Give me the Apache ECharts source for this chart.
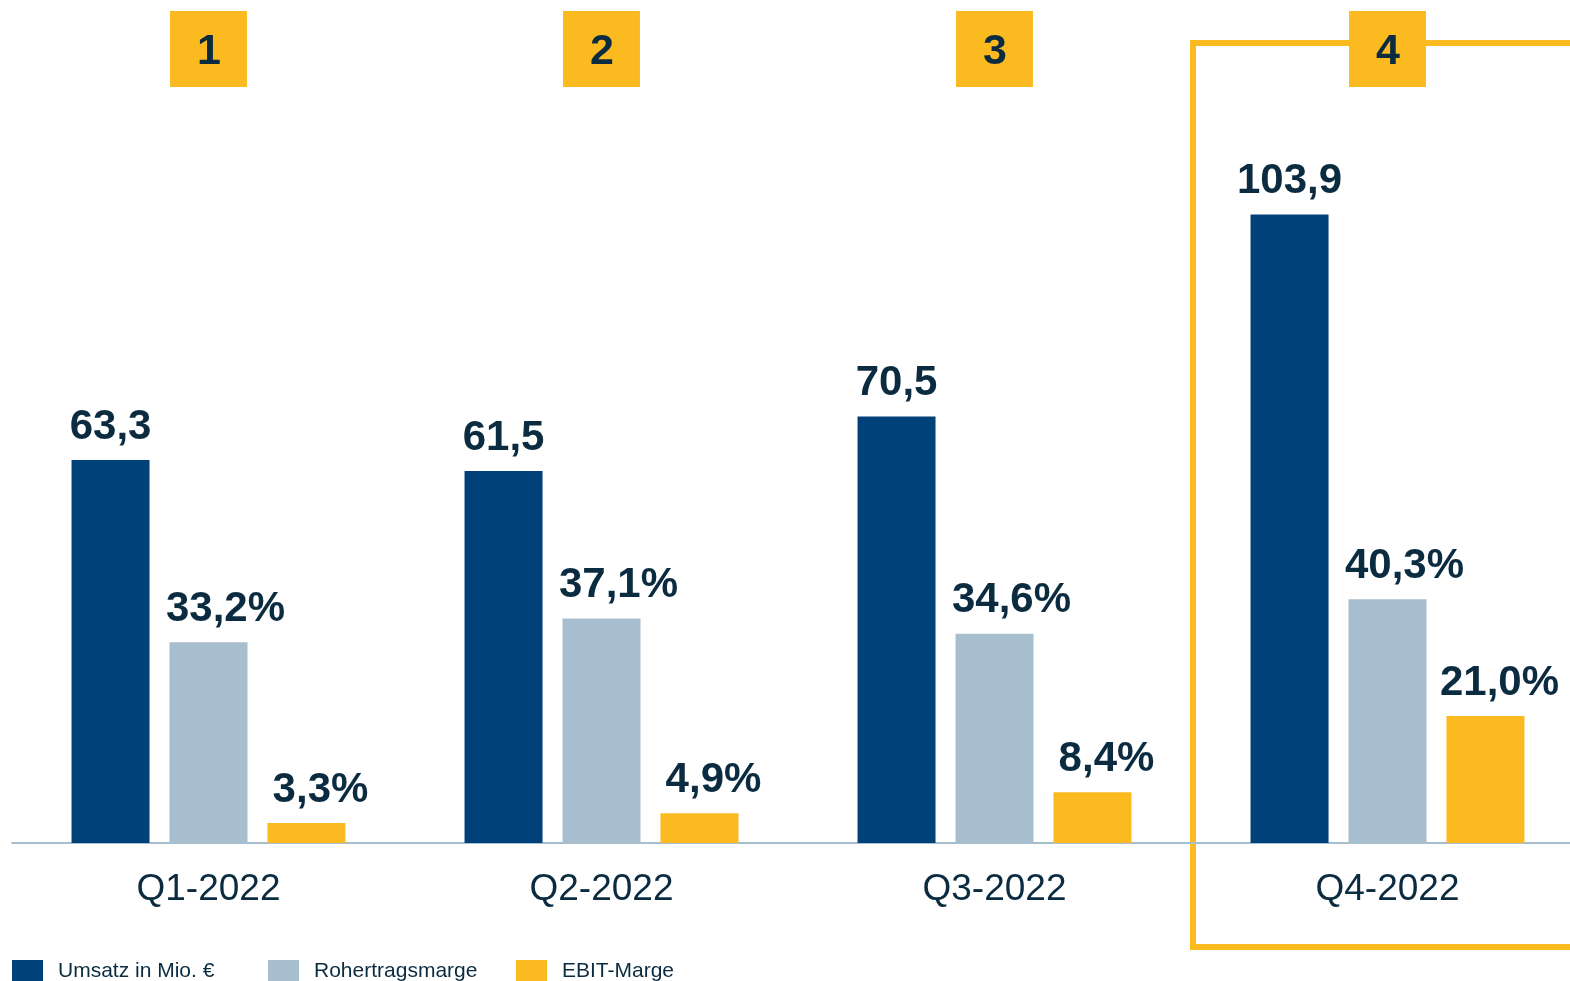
<!DOCTYPE html>
<html>
<head>
<meta charset="utf-8">
<title>Quartale 2022</title>
<script src="https://cdn.jsdelivr.net/npm/echarts@6/dist/echarts.min.js"></script>
<style>
  html, body { margin: 0; padding: 0; background: #fff; }
  #chart { width: 1570px; height: 981px; }
</style>
</head>
<body>
<div id="chart"></div>
<script>
  // Daten
  var quarters = ['Q1-2022', 'Q2-2022', 'Q3-2022', 'Q4-2022']
  var quarterNumbers = ['1', '2', '3', '4']
  var seriesNames = ['Umsatz in Mio. €', 'Rohertragsmarge', 'EBIT-Marge']
  var umsatz = [63.3, 61.5, 70.5, 103.9]
  var rohertragsmarge = [33.2, 37.1, 34.6, 40.3]
  var ebitMarge = [3.3, 4.9, 8.4, 21.0]
  var highlightQuarter = 'Q4-2022'

  var textColor = '#0b2b40'
  var navy = '#01417a'
  var grey = '#a7bece'
  var yellow = '#fbba1f'
  var font = '"Liberation Sans", Arial, sans-serif'

  function fmt (v) {
    return v.toFixed(1).replace('.', ',')
  }

  var valueLabel = {
    show: true,
    position: 'top',
    distance: 12,
    fontFamily: font,
    fontSize: 42,
    fontWeight: 'bold',
    color: textColor
  }
  function percentLabel (dx) {
    return Object.assign({}, valueLabel, {
      offset: [dx, 0],
      formatter: function (p) { return fmt(p.value) + '%' }
    })
  }

  // eine Legende pro Eintrag, damit die Abstaende wie im Original sind
  var legendLeft = [12, 268, 516]
  var legends = seriesNames.map(function (name, i) {
    return {
      left: legendLeft[i],
      top: 960,
      padding: 0,
      itemWidth: 31,
      itemHeight: 22,
      icon: 'rect',
      data: [name],
      textStyle: {
        fontFamily: font,
        fontSize: 21,
        color: textColor,
        padding: [0, 0, 0, 10]
      }
    }
  })

  var chart = echarts.init(document.getElementById('chart'))

  var option = {
    animation: false,
    backgroundColor: '#fff',
    grid: {
      left: 12,
      right: -14,
      top: 117,
      bottom: 138,
      containLabel: false,
      outerBoundsMode: 'none'
    },
    legend: legends,
    xAxis: [
      {
        type: 'category',
        data: quarters,
        position: 'bottom',
        axisLine: { show: true, lineStyle: { color: grey, width: 2 } },
        axisTick: { show: false },
        axisLabel: {
          margin: 28,
          fontFamily: font,
          fontSize: 37,
          color: textColor
        }
      },
      {
        type: 'category',
        data: quarterNumbers,
        position: 'top',
        axisLine: { show: false },
        axisTick: { show: false },
        axisLabel: {
          margin: 30,
          fontFamily: font,
          fontSize: 43,
          lineHeight: 43,
          fontWeight: 'bold',
          color: textColor,
          backgroundColor: yellow,
          padding: [20, 26, 13, 27]
        }
      }
    ],
    yAxis: {
      type: 'value',
      min: 0,
      max: 120,
      show: false,
      splitLine: { show: false }
    },
    series: [
      {
        name: seriesNames[0],
        type: 'bar',
        data: umsatz,
        barWidth: 78,
        barGap: '25.6%',
        itemStyle: { color: navy },
        label: Object.assign({}, valueLabel, {
          formatter: function (p) { return fmt(p.value) }
        })
      },
      {
        name: seriesNames[1],
        type: 'bar',
        data: rohertragsmarge,
        barWidth: 78,
        barGap: '25.6%',
        itemStyle: { color: grey },
        label: percentLabel(17)
      },
      {
        name: seriesNames[2],
        type: 'bar',
        data: ebitMarge,
        barWidth: 78,
        barGap: '25.6%',
        itemStyle: { color: yellow },
        label: percentLabel(14)
      }
    ]
  }
  chart.setOption(option)

  // Rahmen um das hervorgehobene Quartal, aus der Achse berechnet
  var idx = quarters.indexOf(highlightQuarter)
  var cx = chart.convertToPixel({ xAxisIndex: 0 }, highlightQuarter)
  var cxPrev = chart.convertToPixel({ xAxisIndex: 0 }, quarters[idx - 1])
  var band = cx - cxPrev
  var left = cx - band / 2 + 2
  chart.setOption({
    graphic: [
      {
        type: 'rect',
        z: -1,
        silent: true,
        shape: { x: left, y: 43, width: band + 40, height: 904 },
        style: { fill: null, stroke: yellow, lineWidth: 6 }
      }
    ]
  })

  window.addEventListener('resize', function () {
    chart.resize()
  })
</script>
</body>
</html>
